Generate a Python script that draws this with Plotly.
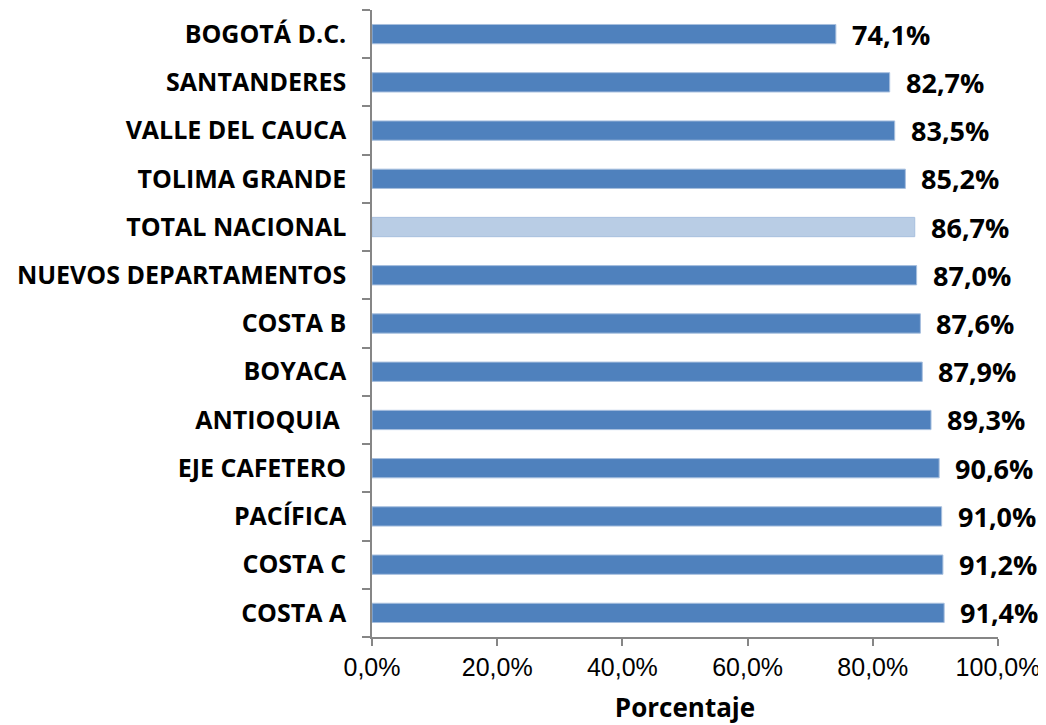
import plotly.graph_objects as go

categories = ["COSTA A", "COSTA C", "PACÍFICA", "EJE CAFETERO", "ANTIOQUIA\u00a0", "BOYACA",
              "COSTA B", "NUEVOS DEPARTAMENTOS", "TOTAL NACIONAL", "TOLIMA GRANDE",
              "VALLE DEL CAUCA", "SANTANDERES", "BOGOTÁ D.C."]
values = [91.4, 91.2, 91.0, 90.6, 89.3, 87.9, 87.6, 87.0, 86.7, 85.2, 83.5, 82.7, 74.1]
highlight = "TOTAL NACIONAL"
labels = [f"{v:.1f}%".replace(".", ",") for v in values]

colors = ["#B9CDE5" if c == highlight else "#4F81BD" for c in categories]

fig = go.Figure()
fig.add_trace(go.Bar(
    x=values, y=categories, orientation="h",
    marker=dict(color=colors, line=dict(color="#A7BFDE", width=1)),
    hoverinfo="x+y",
))
for c, v, t in zip(categories, values, labels):
    fig.add_annotation(x=v, y=c, text=f"<b>{t}</b>", showarrow=False,
                       xanchor="left", yanchor="middle", xshift=14, yshift=0,
                       font=dict(family="Open Sans, sans-serif", size=27, color="black"))

fig.update_layout(
    width=1038, height=717,
    margin=dict(l=364, r=48, t=2, b=88),
    plot_bgcolor="white", paper_bgcolor="white",
    separators=",.",
    bargap=0.6,
    showlegend=False,
    xaxis=dict(range=[0, 100], dtick=20, tick0=0, tickformat=".1f", ticksuffix="%",
               automargin=False,
               showgrid=False, zeroline=False, showline=True, linecolor="#868686", linewidth=1.5,
               ticks="outside", ticklen=7, tickcolor="#868686", tickwidth=1.5,
               tickfont=dict(family="Liberation Sans, Arial, sans-serif", size=25, color="black"),
               title=dict(text="<b>Porcentaje</b>", standoff=22,
                          font=dict(family="Open Sans, sans-serif", size=26, color="black"))),
    yaxis=dict(type="category", categoryorder="array", categoryarray=categories,
               automargin=False,
               showgrid=False, zeroline=False, showline=True, linecolor="#868686", linewidth=1.5,
               ticks="outside", ticklen=8, tickcolor="#868686", tickwidth=1.5, tickson="boundaries",
               ticklabelstandoff=19,
               tickfont=dict(family="Open Sans, sans-serif", size=25, color="black", weight="bold")),
)

fig.write_html("out.html")
